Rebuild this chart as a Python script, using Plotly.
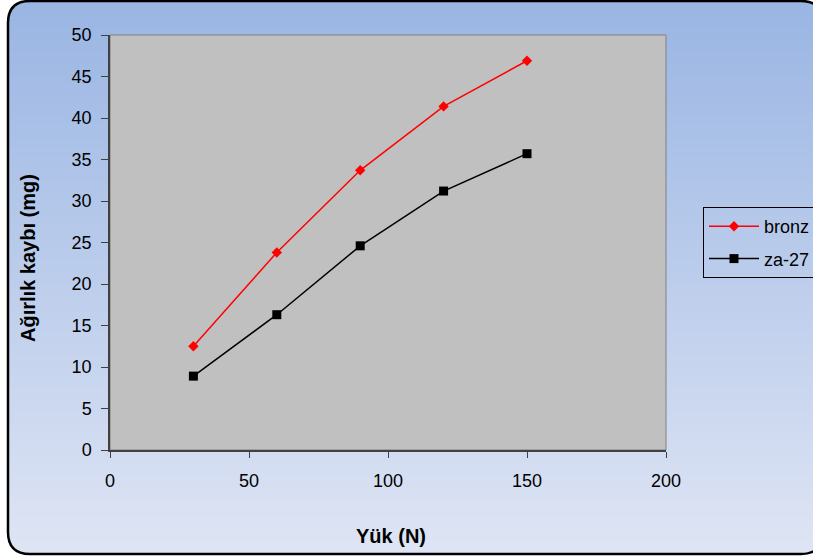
import plotly.graph_objects as go
import math

# ---- data ----
loads = [30, 60, 90, 120, 150]
bronz = [12.5, 23.8, 33.7, 41.4, 46.9]
za27 = [8.9, 16.3, 24.6, 31.2, 35.7]
series_names = ["bronz", "za-27"]
x_title = "Yük (N)"
y_title = "Ağırlık kaybı (mg)"

# ---- layout geometry (pixels) ----
FW, FH = 813, 558
L, R_, T, B = 110, 666, 35, 450
W, H = R_ - L, B - T


def px(x):
    return (x - L) / W


def py(y):
    return (B - y) / H


def lerp(c0, c1, t):
    return tuple(round(a + (b - a) * t) for a, b in zip(c0, c1))


top_c = (153, 181, 227)
bot_c = (223, 229, 244)

shapes = []
# gradient background inside rounded frame
bx0, bx1, by0, by1, rad = 8, 823, 1, 554, 22
step = 3
y = by0
while y < by1:
    a, b = y, min(y + step + 1, by1)
    m = (a + b) / 2
    inset = 0
    if m < by0 + rad:
        d = by0 + rad - m
        inset = rad - math.sqrt(max(rad * rad - d * d, 0))
    elif m > by1 - rad:
        d = m - (by1 - rad)
        inset = rad - math.sqrt(max(rad * rad - d * d, 0))
    c = lerp(top_c, bot_c, m / FH)
    shapes.append(dict(type="rect", xref="paper", yref="paper",
                       x0=px(bx0 + inset), x1=px(bx1 - inset), y0=py(b), y1=py(a),
                       fillcolor="rgb(%d,%d,%d)" % c, line=dict(width=0), layer="below"))
    y += step

# plot area
shapes.append(dict(type="rect", xref="paper", yref="paper", x0=0, x1=1, y0=0, y1=1,
                   fillcolor="#c0c0c0", line=dict(color="#808080", width=1), layer="below"))


def P(x, y):
    return "%.5f,%.5f" % (px(x), py(y))


path = ("M " + P(bx0 + rad, by0) + " L " + P(bx1 - rad, by0) +
        " Q " + P(bx1, by0) + " " + P(bx1, by0 + rad) +
        " L " + P(bx1, by1 - rad) + " Q " + P(bx1, by1) + " " + P(bx1 - rad, by1) +
        " L " + P(bx0 + rad, by1) + " Q " + P(bx0, by1) + " " + P(bx0, by1 - rad) +
        " L " + P(bx0, by0 + rad) + " Q " + P(bx0, by0) + " " + P(bx0 + rad, by0) + " Z")
shapes.append(dict(type="path", xref="paper", yref="paper", path=path,
                   line=dict(color="black", width=2.5), layer="below"))

FONT = "Liberation Sans, Arial, sans-serif"

fig = go.Figure()
fig.add_trace(go.Scatter(x=loads, y=bronz, name=series_names[0], mode="lines+markers",
                         legendgroup="a",
                         line=dict(color="#ff0000", width=1.5),
                         marker=dict(symbol="diamond", size=8, color="#ff0000")))
fig.add_trace(go.Scatter(x=loads, y=za27, name=series_names[1], mode="lines+markers",
                         legendgroup="b",
                         line=dict(color="#000000", width=1.5),
                         marker=dict(symbol="square", size=9, color="#000000")))

fig.update_layout(
    width=FW, height=FH,
    margin=dict(l=L, r=FW - R_, t=T, b=FH - B, autoexpand=False),
    paper_bgcolor="white", plot_bgcolor="rgba(0,0,0,0)",
    font=dict(family=FONT, size=18, color="black"),
    shapes=shapes,
    showlegend=True,
    legend=dict(x=px(703), y=py(207), xanchor="left", yanchor="top",
                bgcolor="rgba(0,0,0,0)", bordercolor="black", borderwidth=1,
                font=dict(family=FONT, size=18, color="black"),
                itemwidth=50, tracegroupgap=6),
    annotations=[
        dict(text="<b>" + x_title + "</b>", xref="paper", yref="paper",
             x=px(391), y=py(536), xanchor="center", yanchor="middle",
             showarrow=False, font=dict(family=FONT, size=20, color="black")),
        dict(text="<b>" + y_title + "</b>", xref="paper", yref="paper",
             x=px(28), y=py(258), xanchor="center", yanchor="middle", textangle=-90,
             showarrow=False, font=dict(family=FONT, size=20, color="black")),
    ],
)
fig.update_xaxes(range=[0, 200], dtick=50, tick0=0, showgrid=False, zeroline=False,
                 showline=True, linecolor="#404040", linewidth=1.5,
                 ticks="outside", ticklen=6, tickcolor="#404040", tickwidth=1,
                 ticklabelstandoff=8)
fig.update_yaxes(range=[0, 50], dtick=5, tick0=0, showgrid=False, zeroline=False,
                 showline=True, linecolor="#404040", linewidth=1.5,
                 ticks="outside", ticklen=7, tickcolor="#404040", tickwidth=1,
                 ticklabelstandoff=6)

fig.write_html("out.html")
